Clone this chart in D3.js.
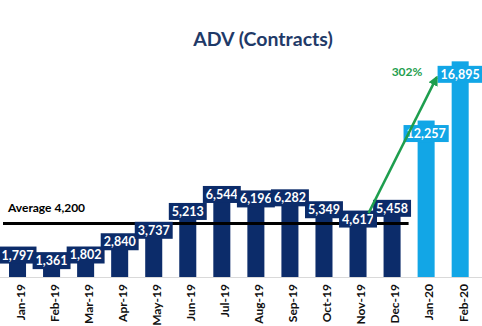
<!DOCTYPE html>
<html>
<head>
<meta charset="utf-8">
<script src="https://cdn.jsdelivr.net/npm/d3@7"></script>
<style>
  html, body { margin: 0; padding: 0; background: #fff; }
  svg { display: block; }
</style>
</head>
<body>
<svg id="chart" width="482" height="326"></svg>
<script>
const months = ["Jan-19","Feb-19","Mar-19","Apr-19","May-19","Jun-19","Jul-19","Aug-19","Sep-19","Oct-19","Nov-19","Dec-19","Jan-20","Feb-20"];
const adv = [1797,1361,1802,2840,3737,5213,6544,6196,6282,5349,4617,5458,12257,16895];
const highlighted = ["Jan-20","Feb-20"];
const averageValue = 4200;
const averageLabel = "Average 4,200";
const growthLabel = "302%";
const growthFrom = "Nov-19";
const growthTo = "Feb-20";
const title = "ADV (Contracts)";

const dark = "#0c2c6a", light = "#12a6e6", green = "#1e9e4e";
const fontFam = "Lato, 'Open Sans', sans-serif";

const svg = d3.select("#chart");
const x = d3.scaleBand().domain(months).range([0.5, 477.2]).paddingInner(0.5).paddingOuter(0.25);
const y = d3.scaleLinear().domain([0, 17000]).range([277, 60]);
const bw = x.bandwidth();
const data = months.map((m, i) => ({ m, v: adv[i], hi: highlighted.includes(m) }));
const fmt = d3.format(",");

// title
svg.append("text").attr("x", 263).attr("y", 46).attr("text-anchor", "middle")
  .attr("font-family", fontFam).attr("font-weight", "bold").attr("font-size", 19.5)
  .attr("fill", "#1f3a68").text(title);

// baseline
svg.append("line").attr("x1", 0).attr("x2", 482).attr("y1", y(0) + 0.5).attr("y2", y(0) + 0.5)
  .attr("stroke", "#d9d9d9").attr("stroke-width", 1);

// bars
svg.selectAll("rect.bar").data(data).join("rect").attr("class", "bar")
  .attr("x", d => x(d.m)).attr("width", bw)
  .attr("y", d => y(d.v)).attr("height", d => y(0) - y(d.v))
  .attr("fill", d => d.hi ? light : dark);

// average line
const lastAvg = months[months.indexOf(growthFrom) + 1];
svg.append("line")
  .attr("x1", 3).attr("x2", x(lastAvg) + bw + 8)
  .attr("y1", y(averageValue)).attr("y2", y(averageValue))
  .attr("stroke", "#000").attr("stroke-width", 3);
svg.append("text").attr("x", 8).attr("y", y(averageValue) - 11)
  .attr("font-family", fontFam).attr("font-weight", "bold").attr("font-size", 12)
  .attr("fill", "#000").text(averageLabel);

// data labels
const lbl = svg.selectAll("g.lbl").data(data).join("g").attr("class", "lbl")
  .attr("transform", d => `translate(${x(d.m) + bw / 2},${d.hi ? y(d.v) + 13 : y(d.v) + 1})`);
lbl.append("text").attr("text-anchor", "middle").attr("dy", "0.36em")
  .attr("font-family", fontFam).attr("font-weight", "bold").attr("font-size", 12.5)
  .attr("fill", "#fff").text(d => fmt(d.v));
lbl.each(function(d) {
  const g = d3.select(this);
  const bb = g.select("text").node().getBBox();
  g.insert("rect", "text").attr("x", bb.x - 3).attr("y", -8.5).attr("width", bb.width + 6).attr("height", 17)
    .attr("fill", d.hi ? light : dark);
});

// growth arrow
const defs = svg.append("defs");
defs.append("marker").attr("id", "ah").attr("viewBox", "0 0 10 10").attr("refX", 8).attr("refY", 5)
  .attr("markerWidth", 4).attr("markerHeight", 4).attr("orient", "auto")
  .append("path").attr("d", "M0,0 L10,5 L0,10 z").attr("fill", green);
const vFrom = adv[months.indexOf(growthFrom)], vTo = adv[months.indexOf(growthTo)];
svg.append("line")
  .attr("x1", x(growthFrom) + bw + 2).attr("y1", y(vFrom) - 5)
  .attr("x2", x(growthTo) - 15).attr("y2", y(vTo) + 16)
  .attr("stroke", green).attr("stroke-width", 2.5).attr("marker-end", "url(#ah)");
svg.append("text").attr("x", 407).attr("y", 76).attr("text-anchor", "middle")
  .attr("font-family", fontFam).attr("font-weight", "bold").attr("font-size", 12)
  .attr("fill", green).text(growthLabel);

// x axis labels
svg.selectAll("text.xl").data(months).join("text").attr("class", "xl")
  .attr("transform", d => `translate(${x(d) + bw / 2 + 3},284) rotate(-90)`)
  .attr("text-anchor", "end").attr("dy", "0.36em")
  .attr("font-family", fontFam).attr("font-weight", "bold").attr("font-size", 12)
  .attr("fill", "#111").text(d => d);
</script>
</body>
</html>
